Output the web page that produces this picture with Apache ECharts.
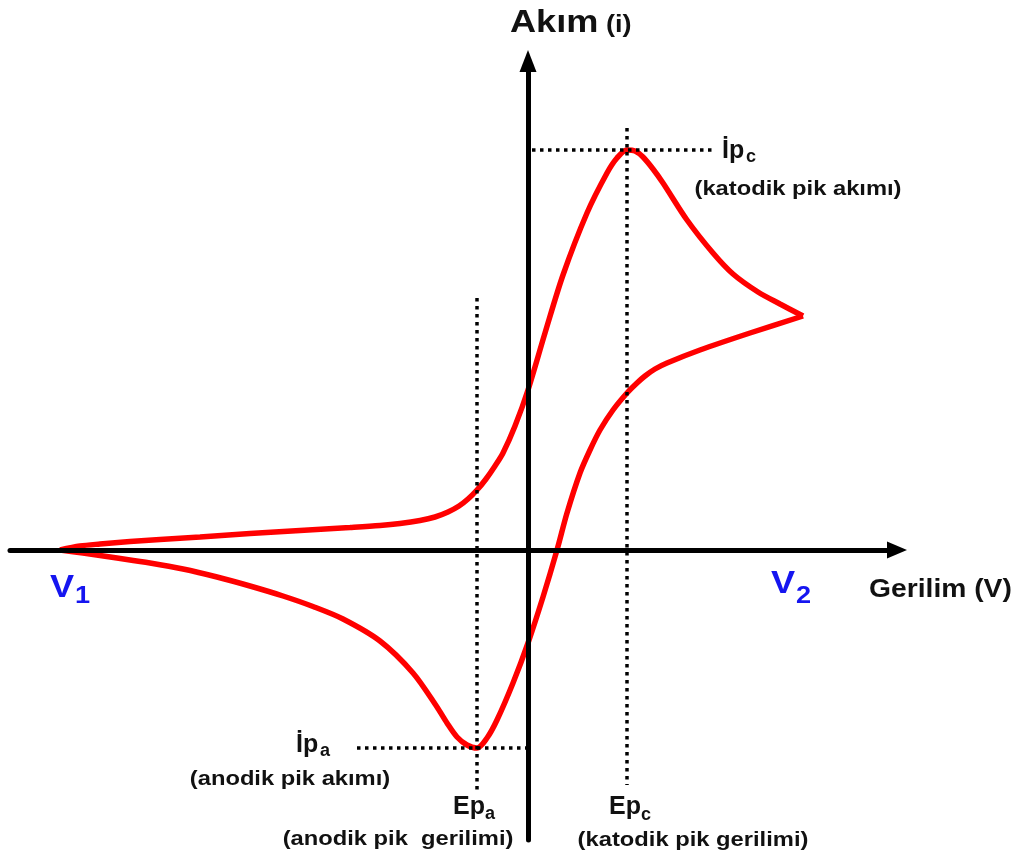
<!DOCTYPE html>
<html>
<head>
<meta charset="utf-8">
<title>Akım - Gerilim</title>
<script src="https://cdn.jsdelivr.net/npm/echarts@6/dist/echarts.min.js"></script>
<style>
html, body { margin: 0; padding: 0; background: #fff; }
#chart { width: 1025px; height: 866px; }
</style>
</head>
<body>
<div id="chart"></div>
<script>
// x: gerilim, y: akım (keyfi birim, orijin eksenlerin kesişimi)
const xRange = [-518, 369]
const yRange = [-290, 489]

// ileri tarama V1 -> V2
const forwardScan = [
  [-468, 0], [-448, 4], [-428, 6], [-398, 8.5], [-368, 10.5], [-328, 13],
  [-278, 16.5], [-228, 19.5], [-178, 22.5], [-148, 24.5], [-128, 26.5], [-108, 29.5],
  [-93, 33], [-80, 38], [-69, 44], [-60, 51], [-51, 60], [-42, 71],
  [-33, 84], [-25, 97], [-13, 124], [0, 160], [17, 217], [35, 275],
  [59, 337], [79, 377], [89, 392], [99, 400], [107, 399], [115, 393],
  [125, 381], [135, 367], [159, 330], [185, 297], [205, 276], [230, 258],
  [252, 246], [275, 234]
]
// geri tarama V2 -> V1
const reverseScan = [
  [275, 234], [222, 217], [172, 200], [139, 187], [127, 181], [117, 174],
  [109, 167], [99, 157], [85, 140], [72, 120], [62, 100], [52, 77],
  [39, 37], [29, 0], [15, -47], [0, -93], [-15, -133], [-31, -170],
  [-41, -188], [-51, -198], [-61, -195], [-71, -187], [-81, -173], [-91, -157],
  [-115, -123], [-148, -91], [-185, -69], [-215, -56.5], [-245, -46], [-278, -36],
  [-311, -27], [-345, -19], [-378, -13], [-411, -8], [-445, -3], [-468, 0]
]

// pik noktaları
const peakC = [99, 400]
const peakA = [-51, -198]

// kılavuz çizgileri (noktalı)
const epcLine = [[peakC[0], 422], [peakC[0], -235]]
const epaLine = [[peakA[0], 252], [peakA[0], -240]]
const ipcLine = [[4, peakC[1]], [184, peakC[1]]]
const ipaLine = [[-171, peakA[1]], [-1, peakA[1]]]

const chart = echarts.init(document.getElementById('chart'))

const FONT = "'Liberation Sans', Arial, sans-serif"

function label (x, y, text, size, opts) {
  opts = opts || {}
  return {
    type: 'text',
    x: x,
    y: y,
    scaleX: opts.sx == null ? 1.13 : opts.sx,
    z: 20,
    style: {
      text: text,
      fill: opts.color || '#111',
      font: 'bold ' + size + 'px ' + FONT,
      align: opts.align || 'left',
      textAlign: opts.align || 'left',
      verticalAlign: 'middle',
      textVerticalAlign: 'middle'
    }
  }
}

function guide (data) {
  return {
    type: 'line',
    data: data,
    symbol: 'none',
    silent: true,
    z: 5,
    lineStyle: { color: '#000', width: 3.5, type: [3.5, 4.5] }
  }
}

function scan (data) {
  return {
    type: 'line',
    data: data,
    symbol: 'none',
    smooth: 0.3,
    z: 3,
    lineStyle: { color: '#ff0000', width: 5.5 }
  }
}

const axisCommon = {
  type: 'value',
  z: 10,
  axisTick: { show: false },
  axisLabel: { show: false },
  splitLine: { show: false }
}

const option = {
  animation: false,
  backgroundColor: '#fff',
  grid: { left: 10, right: 128, top: 61, bottom: 26, containLabel: false },
  xAxis: Object.assign({}, axisCommon, {
    min: xRange[0],
    max: xRange[1],
    axisLine: {
      show: true,
      symbol: ['none', 'triangle'],
      symbolSize: [17, 20],
      lineStyle: { color: '#000', width: 5 }
    }
  }),
  yAxis: Object.assign({}, axisCommon, {
    min: yRange[0],
    max: yRange[1],
    axisLine: {
      show: true,
      symbol: ['none', 'triangle'],
      symbolSize: [17, 22],
      lineStyle: { color: '#000', width: 5 }
    }
  }),
  series: [
    scan(forwardScan),
    scan(reverseScan),
    guide(epcLine),
    guide(epaLine),
    guide(ipcLine),
    guide(ipaLine)
  ],
  graphic: [
    label(510, 23, 'Akım', 32),
    label(606, 25, '(i)', 24),
    label(722, 151, 'İp', 25, { sx: 1 }),
    label(746, 157, 'c', 18, { sx: 1 }),
    label(798, 189, '(katodik pik akımı)', 21, { align: 'center' }),
    label(50, 588, 'V', 32, { color: '#1515f0' }),
    label(75, 596, '1', 24, { color: '#1515f0' }),
    label(771, 584, 'V', 32, { color: '#1515f0' }),
    label(796, 596, '2', 24, { color: '#1515f0' }),
    label(869, 590, 'Gerilim (V)', 25),
    label(296, 745, 'İp', 25, { sx: 1 }),
    label(320, 751, 'a', 18, { sx: 1 }),
    label(290, 779, '(anodik pik akımı)', 21, { align: 'center' }),
    label(453, 807, 'Ep', 25, { sx: 1 }),
    label(485, 814, 'a', 18, { sx: 1 }),
    label(398, 839, '(anodik pik  gerilimi)', 21, { align: 'center' }),
    label(609, 807, 'Ep', 25, { sx: 1 }),
    label(641, 815, 'c', 18, { sx: 1 }),
    label(693, 840, '(katodik pik gerilimi)', 21, { align: 'center' })
  ]
}

chart.setOption(option)
</script>
</body>
</html>
